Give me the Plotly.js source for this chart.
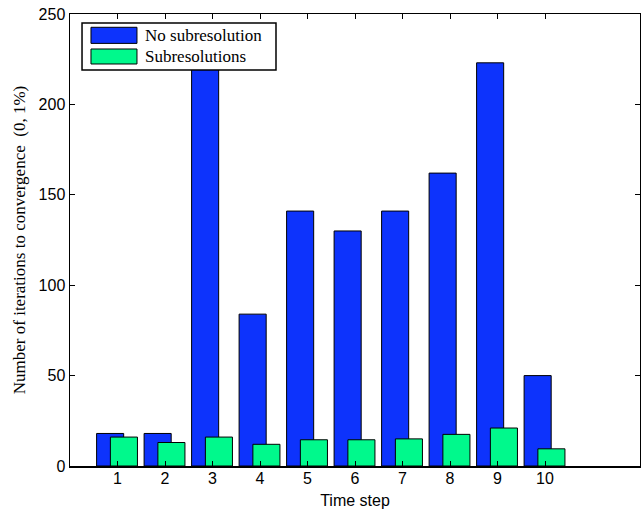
<!DOCTYPE html>
<html>
<head>
<meta charset="utf-8">
<script src="https://cdn.plot.ly/plotly-3.0.1.min.js"></script>
<style>html,body{margin:0;padding:0;background:#fff;}#chart{width:641px;height:512px;}</style>
</head>
<body>
<div id="chart"></div>
<script>
var timeSteps = [1, 2, 3, 4, 5, 6, 7, 8, 9, 10];
var noSubresolution = [18, 18, 240, 84, 141, 130, 141, 162, 223, 50];
var subresolutions = [16, 13, 16, 12, 14.5, 14.5, 15, 17.5, 21, 9.5];
var seriesNames = ["No subresolution", "Subresolutions"];
var seriesColors = ["#0d33fc", "#00f98c"];

var traces = [
  {type: "bar", x: timeSteps, y: noSubresolution, name: seriesNames[0],
   offset: -0.44, width: 0.57,
   marker: {color: seriesColors[0], line: {color: "#000", width: 1}}},
  {type: "bar", x: timeSteps, y: subresolutions, name: seriesNames[1],
   offset: -0.15, width: 0.57,
   marker: {color: seriesColors[1], line: {color: "#000", width: 1}}}
];

var sans = "'Liberation Sans', Arial, Helvetica, sans-serif";
var serif = "'Liberation Serif', 'Times New Roman', Times, serif";
var tickFont = {family: sans, size: 16, color: "#000"};

var layout = {
  width: 641, height: 512,
  margin: {l: 70, r: 1, t: 14, b: 46},
  paper_bgcolor: "#fff", plot_bgcolor: "#fff",
  barmode: "overlay",
  showlegend: false,
  xaxis: {
    range: [0, 12], tickvals: timeSteps, ticktext: timeSteps.map(String),
    ticks: "inside", ticklen: 5, tickcolor: "#000", tickwidth: 1,
    ticklabelstandoff: -3,
    showline: true, linecolor: "#000", linewidth: 1.5, mirror: "ticks",
    showgrid: false, zeroline: false, tickfont: tickFont,
    title: {text: "Time step", font: tickFont, standoff: 9}
  },
  yaxis: {
    range: [0, 250], tickvals: [0, 50, 100, 150, 200, 250],
    ticks: "inside", ticklen: 5, tickcolor: "#000", tickwidth: 1,
    showline: true, linecolor: "#000", linewidth: 1.5, mirror: "ticks",
    showgrid: false, zeroline: false, tickfont: tickFont,
    title: {text: "Number of iterations to convergence  (0, 1%)", font: {family: serif, size: 17, color: "#000"}, standoff: 8}
  },
  shapes: [
    {type: "rect", xref: "paper", yref: "paper", x0: 0.0211, x1: 0.3614, y0: 0.876, y1: 0.980,
     fillcolor: "#fff", line: {color: "#000", width: 1.5}, layer: "above"},
    {type: "rect", xref: "paper", yref: "paper", x0: 0.0368, x1: 0.1175, y0: 0.935, y1: 0.9706,
     fillcolor: seriesColors[0], line: {color: "#000", width: 1}, layer: "above"},
    {type: "rect", xref: "paper", yref: "paper", x0: 0.0368, x1: 0.1175, y0: 0.8894, y1: 0.9226,
     fillcolor: seriesColors[1], line: {color: "#000", width: 1}, layer: "above"}
  ],
  annotations: [
    {xref: "paper", yref: "paper", x: 0.128, y: 0.9535, xanchor: "left", yanchor: "middle",
     text: seriesNames[0], showarrow: false, font: {family: serif, size: 17, color: "#000"}},
    {xref: "paper", yref: "paper", x: 0.128, y: 0.906, xanchor: "left", yanchor: "middle",
     text: seriesNames[1], showarrow: false, font: {family: serif, size: 17, color: "#000"}}
  ]
};

Plotly.newPlot("chart", traces, layout, {displayModeBar: false, staticPlot: true});
</script>
</body>
</html>
